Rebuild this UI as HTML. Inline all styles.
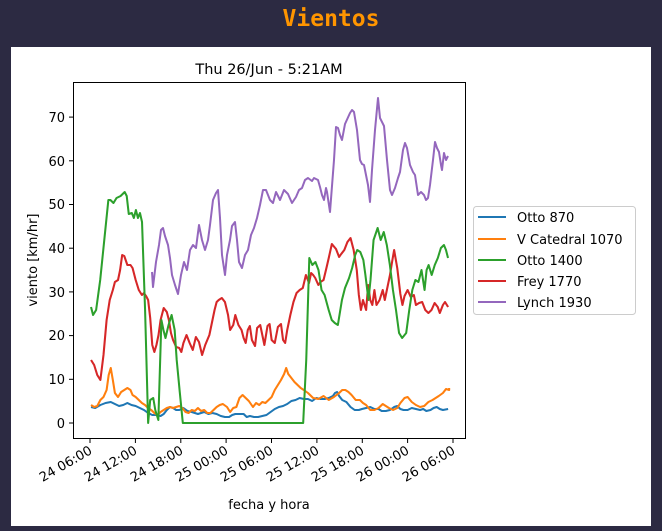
<!DOCTYPE html>
<html><head><meta charset="utf-8"><style>
body{margin:0;width:662px;height:531px;background:#2c2a42;overflow:hidden;font-family:"DejaVu Sans","Liberation Sans",sans-serif}
.t{position:absolute;top:6px;left:0;width:662px;text-align:center;color:#ff9500;font:bold 23px "DejaVu Sans Mono","Liberation Mono",monospace}
.p{position:absolute;left:11px;top:47px;width:640px;height:479px;background:#fff}
svg{position:absolute;left:0;top:0}
</style></head><body>
<div class="t">Vientos</div>
<div class="p"></div>
<svg width="662" height="531" font-family="DejaVu Sans, Liberation Sans, sans-serif" font-size="13">
<text x="269" y="74" text-anchor="middle" font-size="14.5">Thu 26/Jun - 5:21AM</text>
<g fill="none" stroke-width="2" stroke-linejoin="round">
<g transform="translate(90,0) scale(1.038,1) translate(-90,0)">
<polyline stroke="#1f77b4" points="91,407 95,408 100,405 105,403 110,402 114,404 118,406 122,405 126,403 130,405 134,406 138,408 142,410 146,413 150,415 154,415 158,416 161,414 164,410 167,407 170,408 173,410 176,410 180,408 184,411 188,412 191,413 194,414 197,413 200,412 204,414 208,413 212,414 216,416 220,417 224,417 227,415 230,414 234,414 238,414 241,417 244,416 248,417 252,417 256,416 260,415 264,412 268,409 272,407 276,406 280,404 284,401 288,400 292,398 296,399 300,399 304,401 308,398 312,399 316,399 320,398 324,396 326,393 328,392 330,396 333,400 337,402 341,407 345,410 349,410 352,409 356,408 360,407 364,409 368,409 371,411 375,411 379,410 383,407 386,406 389,409 392,410 396,410 400,408 404,409 408,410 411,409 414,411 418,410 421,408 424,407 427,409 430,410 435,409"/>
<polyline stroke="#ff7f0e" points="91,405 94,407 97,406 100,400 103,397 106,390 108,375 110,368 112,380 114,393 117,397 120,392 123,390 126,388 129,390 131,395 134,397 137,400 140,403 143,405 146,408 149,410 152,413 155,415 158,412 161,410 164,408 167,407 170,408 173,407 176,406 179,408 182,412 185,413 188,410 191,411 194,408 197,411 200,410 203,413 206,413 209,410 212,407 215,405 218,404 222,407 225,412 228,408 231,407 234,398 237,395 240,398 243,401 247,407 250,403 253,405 256,402 259,403 262,400 265,397 268,390 271,385 274,380 277,374 279,368 281,374 284,378 287,382 290,385 293,388 296,390 300,393 305,398 310,399 315,396 320,400 325,397 330,393 333,390 336,390 339,392 342,395 346,400 350,400 353,403 356,405 360,410 364,410 368,408 372,404 375,406 378,408 382,410 386,408 389,403 393,398 396,397 400,402 404,405 408,407 412,406 416,402 420,400 423,398 426,396 430,393 433,389 436,390 436,388"/>
<polyline stroke="#d62728" points="91,360 94,365 97,375 100,380 103,355 106,320 109,300 112,290 114,282 117,280 119,270 121,255 123,256 126,265 129,265 131,268 134,280 137,290 140,295 142,293 144,296 146,300 148,318 150,345 152,352 154,345 156,335 158,320 161,308 164,312 166,320 168,333 170,340 173,347 176,348 178,352 180,343 183,335 186,343 189,350 192,337 195,342 198,355 201,345 205,335 208,320 210,310 212,302 214,300 217,298 220,302 223,315 225,330 228,325 230,315 233,325 236,330 238,338 240,343 242,330 244,326 246,340 249,346 251,328 254,325 256,335 258,345 261,326 263,324 265,340 268,343 271,327 274,324 276,340 278,343 280,330 283,315 286,302 289,293 292,290 295,288 298,275 301,283 303,273 305,275 307,278 310,285 312,282 315,280 318,267 320,258 323,244 327,249 330,257 332,254 335,250 338,242 341,238 344,250 347,270 349,295 351,310 353,300 356,310 358,285 360,300 362,305 364,290 366,305 369,300 372,290 374,300 376,290 379,275 381,262 383,250 386,268 389,294 391,305 393,296 396,290 399,297 402,295 404,305 407,303 410,302 413,310 416,313 419,310 422,303 425,307 427,313 430,305 432,302 435,307"/>
</g>
<polyline stroke="#2ca02c" transform="translate(90,0) scale(1.02,1) translate(-90,0)" points="91,307 93,315 96,310 100,280 104,240 108,200 110,200 113,203 116,198 120,196 124,192 126,196 128,214 131,213 133,218 135,210 137,218 139,213 141,222 144,310 147,423 149,400 152,398 154,410 157,420 160,320 162,330 164,338 167,325 170,315 173,330 175,360 178,392 181,423 299,423 302,360 305,258 308,265 311,262 314,270 317,290 320,295 324,310 327,320 330,323 333,325 337,300 340,288 344,278 347,268 350,255 352,250 355,252 358,260 360,275 363,300 365,280 368,240 372,228 375,240 378,232 381,245 384,265 387,290 390,310 393,333 396,338 400,333 403,310 406,290 409,280 412,282 415,270 418,290 420,270 422,265 425,275 428,265 431,258 434,248 437,245 439,250 441,258"/>
<polyline stroke="#9467bd" points="152,272 153,287 156,262 159,245 161,230 163,228 165,236 168,245 170,258 172,275 175,285 178,294 181,275 184,262 187,270 190,250 193,245 196,248 199,225 202,240 205,250 208,240 210,225 213,200 216,193 218,190 220,218 222,255 225,275 227,255 230,240 232,226 235,222 237,240 239,262 242,268 245,255 248,250 251,235 254,228 257,218 260,205 263,190 266,190 270,200 273,203 276,192 280,200 284,190 288,194 292,203 296,197 299,190 302,188 305,180 308,178 312,181 314,178 318,180 320,187 322,195 324,200 326,188 327,192 330,212 334,160 336,127 338,128 340,135 342,140 345,124 350,113 352,110 354,112 357,130 360,160 362,164 364,165 366,175 368,185 370,202 372,170 375,130 378,98 380,118 384,126 387,160 390,190 392,195 395,188 398,178 400,172 403,150 405,143 407,148 410,165 413,172 415,175 418,195 421,192 424,195 426,200 428,198 430,185 433,160 435,142 437,148 439,152 441,165 442,170 444,153 446,160 448,156"/>
</g>
<rect x="73.5" y="82.5" width="392" height="356" fill="none" stroke="#000" stroke-width="1"/>
<g stroke="#000">
<line x1="69" x2="73" y1="423" y2="423"/><line x1="69" x2="73" y1="379.3" y2="379.3"/><line x1="69" x2="73" y1="335.6" y2="335.6"/><line x1="69" x2="73" y1="291.9" y2="291.9"/><line x1="69" x2="73" y1="248.2" y2="248.2"/><line x1="69" x2="73" y1="204.5" y2="204.5"/><line x1="69" x2="73" y1="160.8" y2="160.8"/><line x1="69" x2="73" y1="117.1" y2="117.1"/>
<line x1="90" x2="90" y1="439" y2="443"/><line x1="135.4" x2="135.4" y1="439" y2="443"/><line x1="180.8" x2="180.8" y1="439" y2="443"/><line x1="226.1" x2="226.1" y1="439" y2="443"/><line x1="271.5" x2="271.5" y1="439" y2="443"/><line x1="316.9" x2="316.9" y1="439" y2="443"/><line x1="362.3" x2="362.3" y1="439" y2="443"/><line x1="407.6" x2="407.6" y1="439" y2="443"/><line x1="453" x2="453" y1="439" y2="443"/>
</g>
<g text-anchor="end">
<text x="65" y="428">0</text><text x="65" y="384">10</text><text x="65" y="340">20</text><text x="65" y="297">30</text><text x="65" y="253">40</text><text x="65" y="209">50</text><text x="65" y="166">60</text><text x="65" y="122">70</text>
<text transform="translate(93,453) rotate(-30)">24 06:00</text>
<text transform="translate(138,453) rotate(-30)">24 12:00</text>
<text transform="translate(184,453) rotate(-30)">24 18:00</text>
<text transform="translate(229,453) rotate(-30)">25 00:00</text>
<text transform="translate(274,453) rotate(-30)">25 06:00</text>
<text transform="translate(320,453) rotate(-30)">25 12:00</text>
<text transform="translate(365,453) rotate(-30)">25 18:00</text>
<text transform="translate(410,453) rotate(-30)">26 00:00</text>
<text transform="translate(456,453) rotate(-30)">26 06:00</text>
</g>
<text x="269" y="509" text-anchor="middle">fecha y hora</text>
<text transform="translate(37,260) rotate(-90)" text-anchor="middle">viento [km/hr]</text>
<rect x="473.5" y="206.5" width="162" height="108" rx="3" fill="#fff" stroke="#ccc"/>
<g stroke-width="2">
<line x1="478" x2="506" y1="217" y2="217" stroke="#1f77b4"/>
<line x1="478" x2="506" y1="239" y2="239" stroke="#ff7f0e"/>
<line x1="478" x2="506" y1="260" y2="260" stroke="#2ca02c"/>
<line x1="478" x2="506" y1="281" y2="281" stroke="#d62728"/>
<line x1="478" x2="506" y1="302" y2="302" stroke="#9467bd"/>
</g>
<text x="517" y="222">Otto 870</text>
<text x="517" y="244">V Catedral 1070</text>
<text x="517" y="265">Otto 1400</text>
<text x="517" y="286">Frey 1770</text>
<text x="517" y="307">Lynch 1930</text>
</svg>
</body></html>
